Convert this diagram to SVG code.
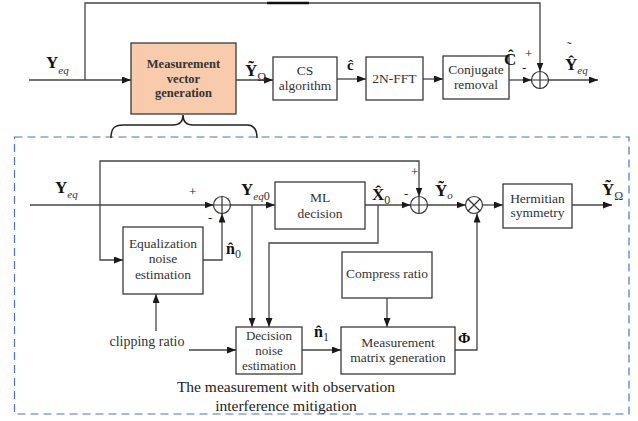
<svg xmlns="http://www.w3.org/2000/svg" width="638" height="421" viewBox="0 0 638 421">
<defs>
<marker id="ar" markerUnits="userSpaceOnUse" markerWidth="9" markerHeight="7" refX="9" refY="3.5" orient="auto">
<path d="M0,0 L9,3.5 L0,7 z" fill="#1a1a1a"/>
</marker>
<style>
.ln{stroke:#444;stroke-width:1.3;fill:none}
.ar{marker-end:url(#ar)}
.bx{fill:#fff;stroke:#3a3a3a;stroke-width:1.3}
.t{font-family:"Liberation Serif",serif;font-size:13.5px;fill:#333;text-anchor:middle}
.tb{font-family:"Liberation Serif",serif;font-size:12.5px;font-weight:bold;fill:#333;text-anchor:middle}
.L{font-family:"Liberation Serif",serif;font-size:17px;font-weight:bold;fill:#111}
.s{font-family:"Liberation Serif",serif;font-size:11px;font-style:italic;font-weight:normal;fill:#333}
.n{font-family:"Liberation Serif",serif;font-size:12px;font-weight:normal;fill:#333}
.acc{font-family:"Liberation Serif",serif;font-size:15px;font-weight:bold;fill:#111}
.sg{font-family:"Liberation Serif",serif;font-size:13px;fill:#222}
.cap{font-family:"Liberation Serif",serif;font-size:15.5px;fill:#222;text-anchor:middle}
</style>
</defs>
<rect width="638" height="421" fill="#fff"/>

<!-- dashed region -->
<rect x="14.5" y="137" width="614.5" height="277" fill="none" stroke="#4a75c5" stroke-width="1.2" stroke-dasharray="8 5"/>
<path d="M111,138 C111,129 114,125 123,125 H173 C180,125 183,121 183,115 C183,121 186,125 193,125 H247 C254,125 257,129 257,138" fill="none" stroke="#222" stroke-width="1.5"/>

<g id="connectors">
<path class="ln ar" d="M29,80 H131"/>
<path class="ln ar" d="M85,80 V3 H540 V71.5"/>
<path d="M267,3 H309" stroke="#111" stroke-width="2.5"/>
<path class="ln ar" d="M236,80 H273"/>
<path class="ln ar" d="M337,79 H366"/>
<path class="ln ar" d="M423,79 H443"/>
<path class="ln ar" d="M509,80 H531.5"/>
<path class="ln ar" d="M548.5,80 H598"/>

<path class="ln ar" d="M30,205 H213.5"/>
<path class="ln ar" d="M100,205 V161 H419 V196.5"/>
<path class="ln ar" d="M100,205 V260 H123"/>
<path class="ln ar" d="M203,260 H222 V213.5"/>
<path class="ln ar" d="M156,331 V294"/>
<path class="ln ar" d="M189,350 H236"/>
<path class="ln ar" d="M230.5,205 H275"/>
<path class="ln ar" d="M252,205 V327"/>
<path class="ln ar" d="M365,205 H410.5"/>
<path class="ln ar" d="M378,205 V243 H269 V327"/>
<path class="ln ar" d="M427.5,205 H465.5"/>
<path class="ln ar" d="M482.5,205 H503"/>
<path class="ln ar" d="M572,205 H612"/>
<path class="ln ar" d="M387,298 V327"/>
<path class="ln ar" d="M455,350 H477 V213.5"/>
<path class="ln ar" d="M302,350 H341"/>
</g>

<!-- top row nodes -->
<g id="mvg">
<rect x="131" y="43" width="105" height="71" fill="#f8cbad" stroke="#3a3a3a" stroke-width="1.3"/>
<text class="tb" x="183.5" y="68">Measurement</text>
<text class="tb" x="183.5" y="83">vector</text>
<text class="tb" x="183.5" y="97">generation</text>
</g>
<g id="cs">
<rect class="bx" x="273" y="57" width="64" height="43"/>
<text class="t" x="305" y="75">CS</text>
<text class="t" x="305" y="90">algorithm</text>
</g>
<g id="fft">
<rect class="bx" x="366" y="57" width="57" height="43"/>
<text class="t" x="394.5" y="83">2N-FFT</text>
</g>
<g id="conj">
<rect class="bx" x="443" y="56" width="66" height="43"/>
<text class="t" x="476" y="74">Conjugate</text>
<text class="t" x="476" y="89">removal</text>
</g>
<g id="sumTop">
<circle cx="540" cy="80" r="8.5" fill="#fff" stroke="#333" stroke-width="1.2"/>
<path d="M531.5,80 H548.5 M540,71.5 V88.5" stroke="#333" stroke-width="1.2"/>
</g>

<!-- inner nodes -->
<g id="sum1">
<circle cx="222" cy="205" r="8.5" fill="#fff" stroke="#333" stroke-width="1.2"/>
<path d="M213.5,205 H230.5 M222,196.5 V213.5" stroke="#333" stroke-width="1.2"/>
</g>
<g id="eqnoise">
<rect class="bx" x="123" y="227" width="80" height="67"/>
<text class="t" x="163" y="248">Equalization</text>
<text class="t" x="163" y="263">noise</text>
<text class="t" x="163" y="279">estimation</text>
</g>
<g id="clip">
<text class="t" x="147" y="346" style="font-size:14px">clipping ratio</text>
</g>
<g id="ml">
<rect class="bx" x="275" y="182" width="90" height="47"/>
<text class="t" x="320" y="202">ML</text>
<text class="t" x="320" y="218">decision</text>
</g>
<g id="sum2">
<circle cx="419" cy="205" r="8.5" fill="#fff" stroke="#333" stroke-width="1.2"/>
<path d="M410.5,205 H427.5 M419,196.5 V213.5" stroke="#333" stroke-width="1.2"/>
</g>
<g id="mult">
<circle cx="474" cy="205" r="8.5" fill="#fff" stroke="#333" stroke-width="1.2"/>
<path d="M468,199 L480,211 M480,199 L468,211" stroke="#333" stroke-width="1.2"/>
</g>
<g id="herm">
<rect class="bx" x="503" y="184" width="69" height="44"/>
<text class="t" x="537.5" y="203">Hermitian</text>
<text class="t" x="537.5" y="217">symmetry</text>
</g>
<g id="compress">
<rect class="bx" x="342" y="252" width="90" height="46"/>
<text class="t" x="387" y="278">Compress ratio</text>
</g>
<g id="decnoise">
<rect class="bx" x="236" y="327" width="66" height="47"/>
<text class="t" x="269" y="340" style="font-size:13px">Decision</text>
<text class="t" x="269" y="355" style="font-size:13px">noise</text>
<text class="t" x="269" y="370" style="font-size:13px">estimation</text>
</g>
<g id="mmg">
<rect class="bx" x="341" y="327" width="114" height="47"/>
<text class="t" x="398" y="347">Measurement</text>
<text class="t" x="398" y="362">matrix generation</text>
</g>

<!-- labels -->
<g id="labels">
<text class="L" x="46" y="68">Y<tspan class="s" dy="6">eq</tspan></text>
<text class="L" x="245" y="76">Ỹ<tspan class="n" dy="5">Ω</tspan></text>
<text class="acc" x="347" y="70">ĉ</text>
<text class="L" x="504" y="65">Ĉ</text>
<text class="sg" x="525" y="58">+</text>
<text class="sg" x="522" y="72">-</text>
<text class="acc" x="567" y="51" style="font-weight:normal;font-size:13px">˜</text>
<text class="L" x="565" y="70">Ŷ<tspan class="s" dy="4">eq</tspan></text>

<text class="L" x="55" y="193">Y<tspan class="s" dy="5">eq</tspan></text>
<text class="sg" x="189" y="196">+</text>
<text class="sg" x="208" y="222">-</text>
<text class="L" x="241" y="195">Y<tspan class="s" dy="5">eq</tspan><tspan class="n">0</tspan></text>
<text class="L" x="226" y="254" style="font-size:16px">n̂<tspan class="n" dy="4">0</tspan></text>
<text class="L" x="372" y="200">X̂<tspan class="n" dy="4">0</tspan></text>
<text class="sg" x="404" y="198">-</text>
<text class="sg" x="411" y="176">+</text>
<text class="L" x="435" y="196">Ỹ<tspan class="s" dy="3">o</tspan></text>
<text class="L" x="602" y="195">Ỹ<tspan class="n" dy="5">Ω</tspan></text>
<text class="L" x="314" y="337" style="font-size:16px">n̂<tspan class="n" dy="4">1</tspan></text>
<text class="L" x="458" y="343" style="font-size:15px">Φ</text>
</g>

<g id="caption">
<text class="cap" x="286" y="392">The measurement with observation</text>
<text class="cap" x="286" y="411">interference mitigation</text>
</g>
</svg>
